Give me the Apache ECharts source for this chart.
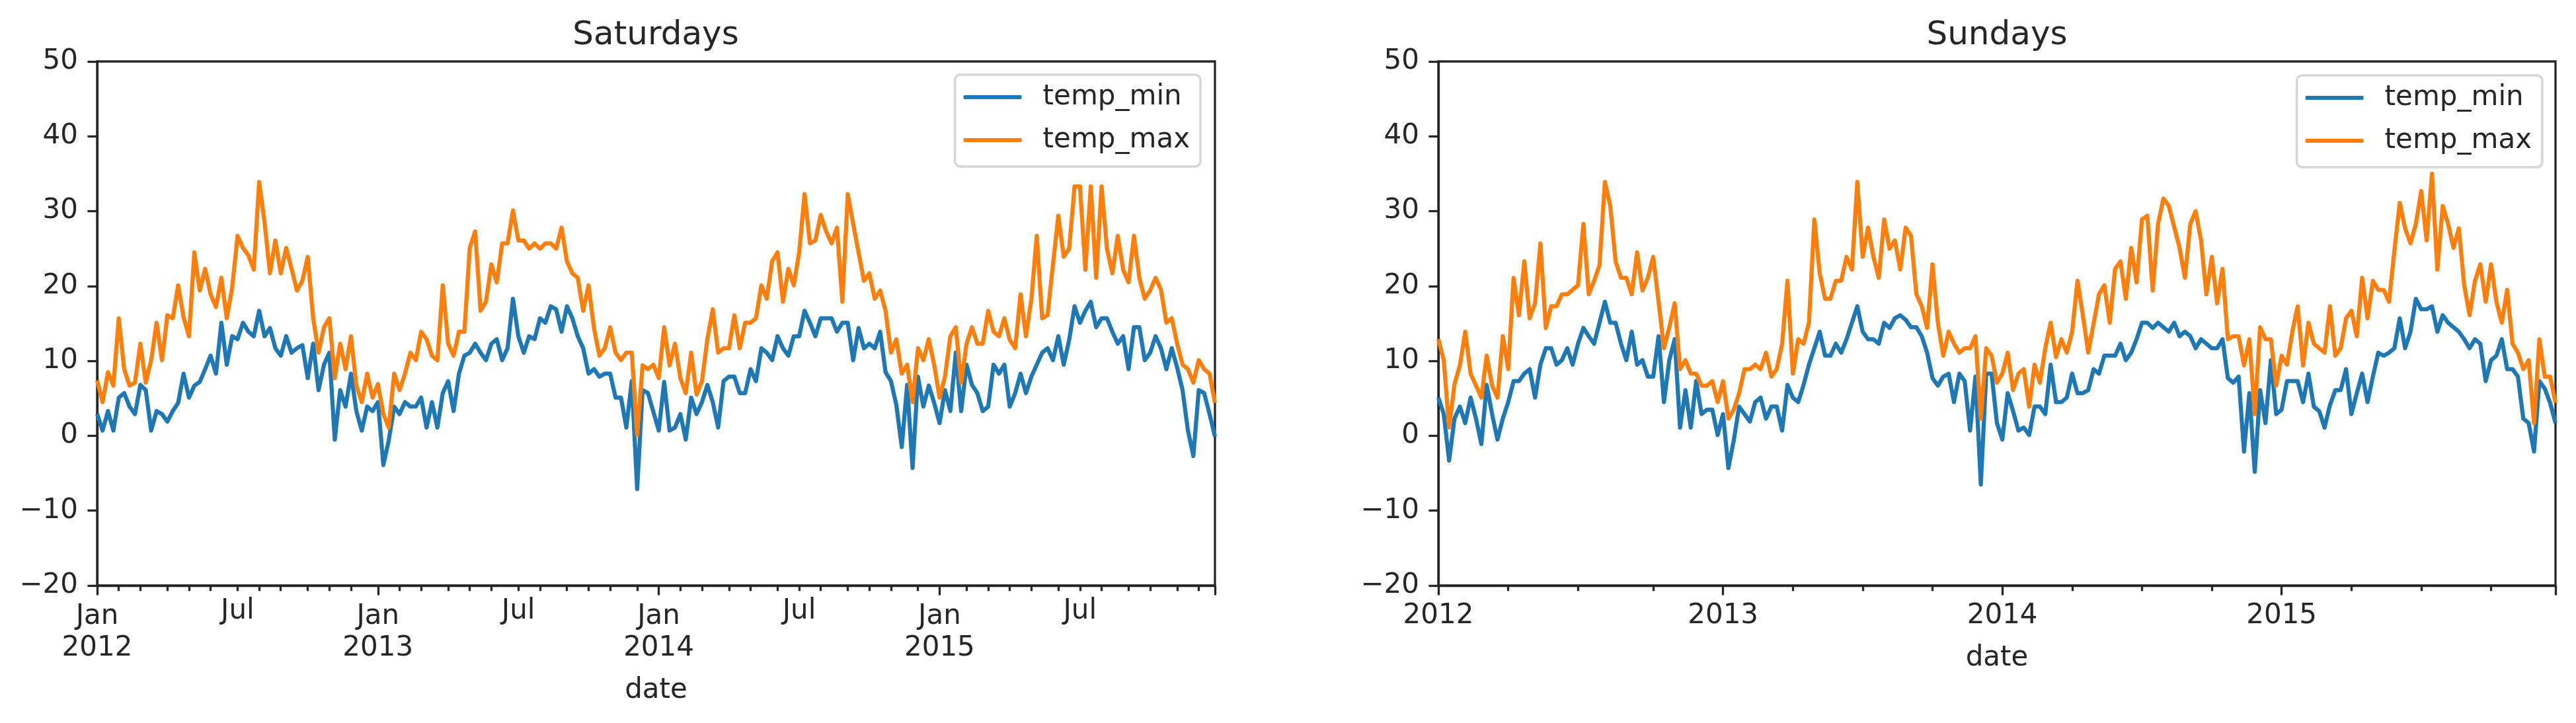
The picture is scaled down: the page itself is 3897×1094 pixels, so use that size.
<!DOCTYPE html>
<html>
<head>
<meta charset="utf-8">
<script src="https://cdn.jsdelivr.net/npm/echarts@6/dist/echarts.min.js"></script>
<style>
html,body{margin:0;padding:0;background:#ffffff;}
#chart{width:3897px;height:1094px;}
</style>
</head>
<body>
<div id="chart"></div>
<script>
// ---------------- data (weekly values) ----------------
const seriesNames = ['temp_min', 'temp_max'];
const panelTitles = ['Saturdays', 'Sundays'];
const satStart = [2012, 0, 7];   // first Saturday
const sunStart = [2012, 0, 1];   // first Sunday

const satMax = [
  7.4, 4.5, 8.5, 6.7, 15.7, 8.9, 6.7, 7.1, 12.3, 7.1,
  10.1, 15.1, 10.1, 16.1, 15.7, 20.1, 15.8, 13.3, 24.5, 19.4,
  22.3, 18.9, 17.2, 21.1, 15.7, 19.8, 26.7, 25.1, 24.1, 22.2,
  33.9, 28.5, 21.7, 26.1, 21.7, 25.1, 22.3, 19.4, 20.7, 23.9,
  15.7, 11.1, 14.5, 15.7, 7.7, 12.3, 8.9, 13.3, 6.7, 4.5,
  8.3, 5.1, 6.9,
  2.9, 1.1, 8.3, 6.1, 8.3, 11.1, 10.1, 13.9, 12.9, 10.7,
  10.1, 20.1, 12.3, 10.7, 13.9, 13.9, 25.1, 27.3, 16.7, 17.9,
  22.9, 20.5, 25.7, 25.7, 30.1, 26.1, 26.1, 25.0, 25.7, 25.0,
  25.7, 25.7, 25.0, 27.8, 23.3, 21.7, 21.1, 16.7, 20.1, 14.4,
  10.7, 11.7, 14.5, 11.1, 10.1, 11.1, 11.1, 0.1, 9.4,
  8.9, 9.5, 7.7, 14.5, 9.4, 12.3, 7.7, 5.7, 11.1, 5.5,
  7.3, 12.9, 16.9, 11.1, 11.7, 11.7, 16.1, 11.7, 15.1, 15.1,
  15.7, 20.1, 18.3, 23.3, 24.5, 17.9, 22.3, 20.1, 24.5, 32.3,
  25.7, 26.1, 29.5, 27.3, 25.7, 27.8, 17.9, 32.3, 28.3, 24.5,
  20.7, 21.7, 18.3, 19.4, 16.7, 11.1, 12.9, 8.3, 9.5, 4.5,
  11.7, 10.1, 12.9,
  9.5, 5.1, 7.9, 13.3, 14.5, 7.1, 12.3, 14.5, 12.3, 12.3,
  16.7, 13.9, 13.3, 15.7, 12.8, 11.7, 18.9, 13.3, 18.2, 26.7,
  15.7, 16.1, 22.9, 29.4, 23.9, 25.0, 33.3, 33.3, 22.2, 33.3,
  21.1, 33.3, 25.0, 21.7, 26.7, 22.2, 20.5, 26.7, 21.1, 18.3,
  19.4, 21.1, 19.5, 15.1, 15.7, 12.3, 9.5, 8.9, 7.1, 10.1,
  8.9, 8.3, 4.4
];
const satMin = [
  2.9, 0.7, 3.3, 0.7, 5.1, 5.7, 3.9, 2.9, 6.8, 6.1,
  0.7, 3.3, 2.9, 1.9, 3.3, 4.4, 8.3, 5.1, 6.7, 7.2,
  8.9, 10.7, 8.3, 15.1, 9.5, 13.3, 12.9, 15.1, 13.9, 13.3,
  16.7, 13.3, 14.4, 11.7, 10.7, 13.3, 11.1, 11.7, 12.1, 7.7,
  12.3, 6.1, 9.5, 11.1, -0.5, 6.1, 3.9, 8.3, 3.3, 0.7,
  3.9, 3.3, 4.5,
  -3.9, -0.6, 3.9, 2.9, 4.5, 3.9, 3.9, 5.1, 1.1, 4.5,
  1.1, 5.7, 7.3, 3.3, 8.3, 10.7, 11.1, 12.3, 11.1, 10.1,
  12.3, 12.9, 10.1, 11.7, 18.3, 13.3, 11.1, 13.3, 12.9, 15.7,
  15.1, 17.3, 16.9, 13.9, 17.3, 15.7, 13.3, 11.7, 8.3, 8.9,
  7.9, 8.3, 8.3, 5.1, 5.1, 1.1, 7.3, -7.1, 6.1,
  5.7, 3.2, 0.7, 7.2, 0.7, 1.1, 2.9, -0.5, 5.1, 2.9,
  4.5, 6.8, 4.5, 1.1, 7.3, 7.9, 7.9, 5.7, 5.7, 8.9,
  7.3, 11.7, 11.1, 10.1, 13.3, 11.7, 10.7, 13.3, 13.3, 16.7,
  15.1, 13.3, 15.7, 15.7, 15.7, 13.9, 15.1, 15.1, 10.1, 14.4,
  11.7, 12.3, 11.7, 13.9, 8.5, 7.3, 4.1, -1.5, 6.8, -4.3,
  7.9, 3.9, 6.7,
  4.4, 1.7, 6.1, 3.3, 11.1, 3.3, 9.5, 6.8, 5.7, 3.3,
  3.9, 9.5, 8.3, 9.5, 3.9, 5.7, 8.3, 5.7, 7.9, 9.5,
  11.1, 11.7, 10.1, 13.3, 9.5, 12.8, 17.3, 15.1, 16.7, 17.9,
  14.5, 15.7, 15.7, 13.9, 12.3, 13.3, 8.9, 14.5, 14.5, 10.1,
  11.1, 13.3, 11.7, 8.9, 11.7, 9.1, 6.1, 0.7, -2.7, 6.1,
  5.7, 2.9, -0.1
];
const sunMax = [
  12.9, 10.1, 1.1, 6.9, 9.4, 13.9, 8.3, 6.7, 5.1, 10.7,
  6.7, 5.1, 13.3, 8.9, 21.1, 16.1, 23.3, 15.7, 17.7, 25.7,
  14.4, 17.3, 17.3, 18.9, 18.9, 19.5, 20.1, 28.3, 18.9, 20.7,
  22.8, 33.9, 30.7, 23.3, 21.1, 21.1, 18.9, 24.5, 19.4, 21.1,
  23.9, 17.9, 11.7, 14.5, 17.7, 8.9, 10.1, 8.3, 8.3, 6.7,
  6.7, 7.3, 4.5,
  7.3, 2.3, 3.5, 5.7, 8.9, 8.9, 9.5, 8.9, 11.1, 7.9,
  8.9, 12.3, 20.7, 8.3, 12.9, 12.3, 15.1, 28.9, 21.7, 18.3,
  18.3, 20.7, 20.7, 23.9, 22.2, 33.9, 23.9, 27.8, 23.9, 21.1,
  28.9, 25.0, 26.1, 22.2, 27.8, 26.7, 18.9, 17.3, 14.4, 22.9,
  15.1, 10.7, 13.9, 12.3, 11.1, 11.7, 11.7, 13.3, 2.3, 11.7,
  10.7,
  7.1, 8.3, 11.1, 6.1, 8.3, 8.9, 3.9, 9.5, 7.1, 11.7,
  15.1, 10.5, 12.9, 11.1, 13.9, 20.7, 16.1, 11.1, 15.0, 18.9,
  20.1, 15.1, 22.3, 23.3, 18.3, 25.1, 20.5, 28.9, 29.4, 19.4,
  28.3, 31.7, 30.7, 27.9, 25.1, 21.1, 28.3, 30.0, 26.1, 18.9,
  23.9, 17.7, 22.3, 12.9, 13.3, 13.3, 9.4, 12.9, 2.9, 14.5,
  12.9, 12.9,
  6.7, 10.7, 9.5, 13.9, 17.3, 9.4, 15.1, 12.3, 11.7, 11.1,
  17.3, 10.7, 11.7, 15.7, 16.7, 13.3, 21.1, 15.7, 20.7, 19.5,
  19.5, 17.9, 24.7, 31.1, 27.7, 25.7, 28.3, 32.7, 26.1, 35.0,
  22.2, 30.7, 28.3, 25.1, 27.7, 20.1, 16.1, 20.7, 22.9, 17.9,
  22.9, 17.9, 15.1, 19.5, 12.3, 11.1, 8.9, 10.1, 1.7, 12.9,
  7.9, 7.9, 4.4
];
const sunMin = [
  5.1, 2.9, -3.3, 2.3, 3.9, 1.7, 5.1, 2.3, -1.1, 6.8,
  2.9, -0.5, 2.3, 4.5, 7.3, 7.3, 8.3, 8.9, 5.1, 9.5,
  11.7, 11.7, 9.5, 10.1, 11.7, 9.5, 12.3, 14.4, 13.3, 12.3,
  15.1, 17.9, 15.1, 15.1, 12.3, 10.1, 13.9, 9.5, 10.1, 7.9,
  7.9, 13.3, 4.5, 10.1, 12.9, 1.1, 6.1, 1.1, 7.3, 2.9,
  3.5, 3.5, 0.1,
  2.9, -4.3, -0.6, 3.9, 2.9, 1.9, 4.5, 5.1, 2.3, 3.9,
  3.9, 0.7, 6.8, 5.1, 4.5, 6.8, 9.5, 11.7, 13.9, 10.7,
  10.7, 12.3, 11.1, 12.9, 15.1, 17.3, 13.9, 12.9, 12.9, 12.3,
  15.1, 14.4, 15.7, 16.1, 15.5, 14.5, 14.5, 13.3, 11.1, 7.7,
  6.7, 7.9, 8.3, 4.5, 8.3, 7.3, 0.7, 7.9, -6.5, 8.3,
  8.3,
  1.7, -0.5, 5.7, 3.3, 0.7, 1.1, 0.1, 3.9, 3.9, 2.9,
  9.5, 4.5, 4.5, 5.1, 8.3, 5.7, 5.7, 6.1, 8.9, 8.3,
  10.7, 10.7, 10.7, 12.3, 10.1, 11.1, 12.9, 15.1, 15.1, 14.4,
  15.1, 14.5, 13.9, 15.1, 13.3, 13.9, 13.3, 11.7, 12.9, 12.3,
  11.7, 11.7, 12.9, 7.7, 7.1, 7.9, -2.1, 5.7, -4.8, 6.1,
  1.7, 10.1,
  2.9, 3.5, 7.3, 7.3, 7.3, 4.5, 8.3, 3.9, 3.3, 1.1,
  4.1, 6.1, 6.1, 8.9, 2.9, 5.7, 8.3, 4.5, 7.9, 11.1,
  10.7, 11.1, 11.7, 15.7, 11.7, 13.9, 18.3, 16.9, 16.9, 17.3,
  13.9, 16.1, 15.1, 14.5, 13.9, 12.9, 11.7, 12.9, 12.3, 7.3,
  10.1, 10.7, 12.9, 8.9, 8.9, 7.9, 2.3, 1.7, -2.1, 7.3,
  6.3, 4.4, 1.7
];
const yTicks = { min: -20, max: 50, interval: 10 };

// ---------------- derived categories (dates) ----------------
const DAY = 86400000;
function weekly(start, n) {
  const t0 = Date.UTC(start[0], start[1], start[2]);
  const out = [];
  for (let i = 0; i < n; i++) out.push(t0 + i * 7 * DAY);
  return out;
}
const satDates = weekly(satStart, satMax.length);
const sunDates = weekly(sunStart, sunMax.length);
const mon = t => new Date(t).getUTCMonth();
const yr = t => new Date(t).getUTCFullYear();
function monthStarts(d) {
  return d.filter((t, i) => i === 0 || mon(t) !== mon(d[i - 1]));
}
const satMS = monthStarts(satDates);
const sunMS = monthStarts(sunDates);
const satLast = satDates[satDates.length - 1];
const sunLast = sunDates[sunDates.length - 1];
const satJan = satMS.filter(t => mon(t) === 0);
const satJul = satMS.filter(t => mon(t) === 6);
const satMinor = satMS.filter(t => mon(t) !== 0);
const sunJan = sunMS.filter(t => mon(t) === 0);
const sunMinor = sunMS.filter(t => [3, 6, 9].indexOf(mon(t)) >= 0);

// ---------------- styling ----------------
const FONT = 'DejaVu Sans';
const TXT = '#262626';
const BLUE = '#1f77b4';
const ORANGE = '#ff7f0e';
const SPINE = 3.3;
const FS = 42;

function yAxis(gi) {
  return {
    type: 'value', gridIndex: gi, min: yTicks.min, max: yTicks.max, interval: yTicks.interval,
    axisLine: { show: true, onZero: false, lineStyle: { color: TXT, width: SPINE } },
    axisTick: { show: true, length: 14.6, lineStyle: { color: TXT, width: SPINE } },
    axisLabel: { margin: 29, fontFamily: FONT, fontSize: FS, color: TXT,
      formatter: v => String(v).replace('-', '\u2212') },
    splitLine: { show: false }
  };
}
function xMajor(gi, dates, labelVals, tickVals, fmt, nameGap, margin) {
  return {
    type: 'value', gridIndex: gi, position: 'bottom',
    min: dates[0], max: dates[dates.length - 1],
    axisLine: { show: true, onZero: false, lineStyle: { color: TXT, width: SPINE } },
    axisTick: { show: true, length: 14.6, customValues: tickVals, lineStyle: { color: TXT, width: SPINE } },
    axisLabel: { show: true, customValues: labelVals, formatter: fmt, margin: margin,
      fontFamily: FONT, fontSize: FS, color: TXT, lineHeight: 48, align: 'center' },
    splitLine: { show: false },
    name: 'date', nameLocation: 'middle', nameGap: nameGap,
    nameTextStyle: { fontFamily: FONT, fontSize: FS, color: TXT }
  };
}
function xMinor(gi, dates, labelVals, tickVals, fmt, margin) {
  return {
    type: 'value', gridIndex: gi, position: 'bottom',
    min: dates[0], max: dates[dates.length - 1],
    axisLine: { show: false, onZero: false },
    axisTick: { show: true, length: 8.3, customValues: tickVals, lineStyle: { color: TXT, width: SPINE } },
    axisLabel: { show: labelVals.length > 0, customValues: labelVals.length ? labelVals : undefined,
      formatter: fmt, margin: margin, fontFamily: FONT, fontSize: FS, color: TXT, lineHeight: 48, align: 'center' },
    splitLine: { show: false }
  };
}
function legend(right, top) {
  return {
    orient: 'vertical', right: right, top: top, data: seriesNames.slice(),
    icon: 'roundRect', itemWidth: 88, itemHeight: 6, itemGap: 23,
    padding: [13, 16, 19, 13], borderColor: '#d6d6d6', borderWidth: 3.5, borderRadius: 8,
    backgroundColor: '#ffffff', selectedMode: false,
    textStyle: { fontFamily: FONT, fontSize: FS, color: TXT, lineHeight: 42, padding: [0, 0, 0, 27] }
  };
}
function line(name, xi, yi, dates, vals, color) {
  return {
    type: 'line', name: name, xAxisIndex: xi, yAxisIndex: yi,
    data: dates.map((t, i) => [t, vals[i]]),
    showSymbol: false, symbol: 'none', clip: true,
    lineStyle: { color: color, width: 6.25, join: 'round', cap: 'butt' },
    itemStyle: { color: color }, emphasis: { disabled: true }
  };
}

const option = {
  animation: false,
  backgroundColor: '#ffffff',
  textStyle: { fontFamily: FONT },
  title: [
    { text: panelTitles[0], left: 992, top: 29, textAlign: 'center', padding: 0,
      textStyle: { fontFamily: FONT, fontSize: 50, fontWeight: 'normal', color: TXT } },
    { text: panelTitles[1], left: 3021, top: 29, textAlign: 'center', padding: 0,
      textStyle: { fontFamily: FONT, fontSize: 50, fontWeight: 'normal', color: TXT } }
  ],
  grid: [
    { left: 147, top: 93, width: 1691, height: 793, show: true, borderColor: TXT, borderWidth: SPINE, backgroundColor: 'transparent', containLabel: false },
    { left: 2176, top: 93, width: 1690, height: 793, show: true, borderColor: TXT, borderWidth: SPINE, backgroundColor: 'transparent', containLabel: false }
  ],
  legend: [legend(2081, 113), legend(51, 114)],
  xAxis: [
    xMajor(0, satDates, satJan, satJan.concat([satLast]), v => 'Jan\n' + yr(v), 138, 23),
    xMinor(0, satDates, satJul, satMinor, v => 'Jul', 15),
    xMajor(1, sunDates, sunJan, sunJan.concat([sunLast]), v => String(yr(v)), 89, 22),
    xMinor(1, sunDates, [], sunMinor, v => '', 15)
  ],
  yAxis: [yAxis(0), yAxis(1)],
  series: [
    line(seriesNames[0], 0, 0, satDates, satMin, BLUE),
    line(seriesNames[1], 0, 0, satDates, satMax, ORANGE),
    line(seriesNames[0], 2, 1, sunDates, sunMin, BLUE),
    line(seriesNames[1], 2, 1, sunDates, sunMax, ORANGE)
  ]
};
const chart = echarts.init(document.getElementById('chart'), null, { renderer: 'canvas', width: 3897, height: 1094 });
chart.setOption(option);
</script>
</body>
</html>
